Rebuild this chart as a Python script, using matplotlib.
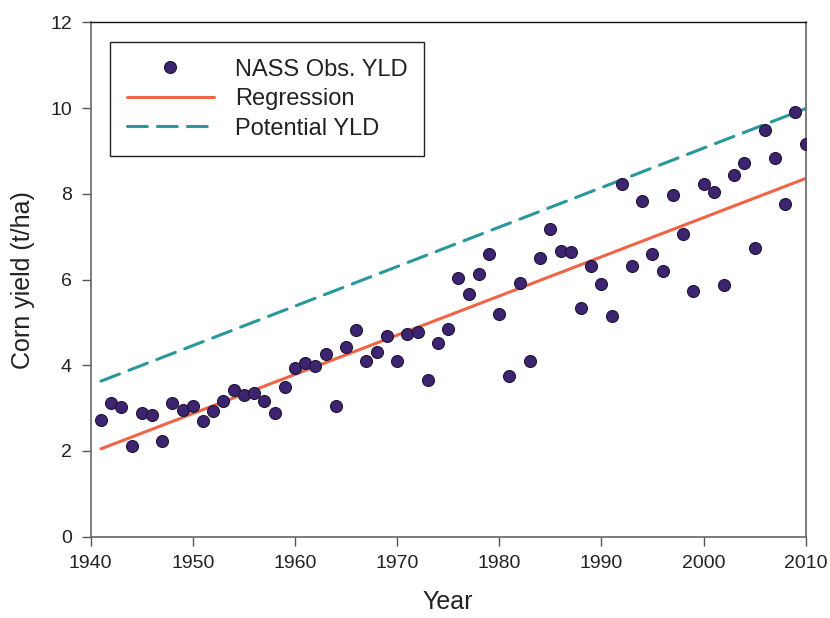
import matplotlib.pyplot as plt

plt.rcParams["font.family"] = ["Liberation Sans", "DejaVu Sans"]

# observed yield, one point per year
years = list(range(1941, 2011))
obs_yield = [
    2.72, 3.11, 3.03, 2.12, 2.89, 2.84, 2.23, 3.13, 2.96, 3.05,
    2.71, 2.93, 3.17, 3.42, 3.31, 3.35, 3.16, 2.89, 3.49, 3.94,
    4.06, 3.99, 4.26, 3.05, 4.42, 4.82, 4.09, 4.31, 4.68, 4.09,
    4.74, 4.78, 3.66, 4.51, 4.85, 6.03, 5.66, 6.12, 6.59, 5.20,
    3.76, 5.91, 4.09, 6.51, 7.19, 6.67, 6.64, 5.34, 6.32, 5.89,
    5.15, 8.22, 6.32, 7.83, 6.60, 6.20, 7.98, 7.06, 5.73, 8.22,
    8.05, 5.88, 8.45, 8.71, 6.74, 9.48, 8.84, 7.76, 9.91, 9.16,
]

# straight lines, end points only
line_years = [1941, 2010]
regression = [2.05, 8.36]
potential = [3.63, 9.99]

dot_color = "#3d2470"
reg_color = "#f06448"
pot_color = "#2a979c"
text_color = "#222222"

fig = plt.figure(figsize=(8.3, 6.18), dpi=100)
ax = fig.add_axes([0.1093, 0.1316, 0.8614, 0.832])

ax.plot(years, obs_yield, linestyle="none", marker="o", markersize=8.6,
        markerfacecolor=dot_color, markeredgecolor="#1e1436", markeredgewidth=0.8,
        label="NASS Obs. YLD", zorder=3)
ax.plot(line_years, regression, color=reg_color, linewidth=2.2,
        solid_capstyle="round", label="Regression")
ax.plot(line_years, potential, color=pot_color, linewidth=2.2,
        dashes=(6.5, 3.3), dash_capstyle="round", label="Potential YLD")

ax.set_xlim(1940, 2010)
ax.set_ylim(0, 12)
ax.set_xticks(range(1940, 2011, 10))
ax.set_yticks(range(0, 13, 2))
ax.tick_params(direction="out", length=6.5, width=1, colors="#555555",
               labelcolor=text_color, labelsize=14, pad=7)

for side in ["left", "bottom", "right"]:
    ax.spines[side].set_color("#666666")
    ax.spines[side].set_linewidth(1.2)
ax.spines["top"].set_color("#111111")
ax.spines["top"].set_linewidth(1.0)

ax.set_xlabel("Year", fontsize=18, color=text_color, labelpad=13)
ax.set_ylabel("Corn yield (t/ha)", fontsize=18, color=text_color, labelpad=11)

leg = ax.legend(loc="upper left", bbox_to_anchor=(0.027, 0.962), borderaxespad=0,
                fontsize=17, handlelength=3.7, handletextpad=0.9, labelspacing=0.32,
                borderpad=0.7, fancybox=False, framealpha=1, markerscale=1.0)
leg.get_frame().set_edgecolor("#222222")
leg.get_frame().set_linewidth(1.0)
for t in leg.get_texts():
    t.set_color(text_color)

fig.savefig("out.png", dpi=100)
